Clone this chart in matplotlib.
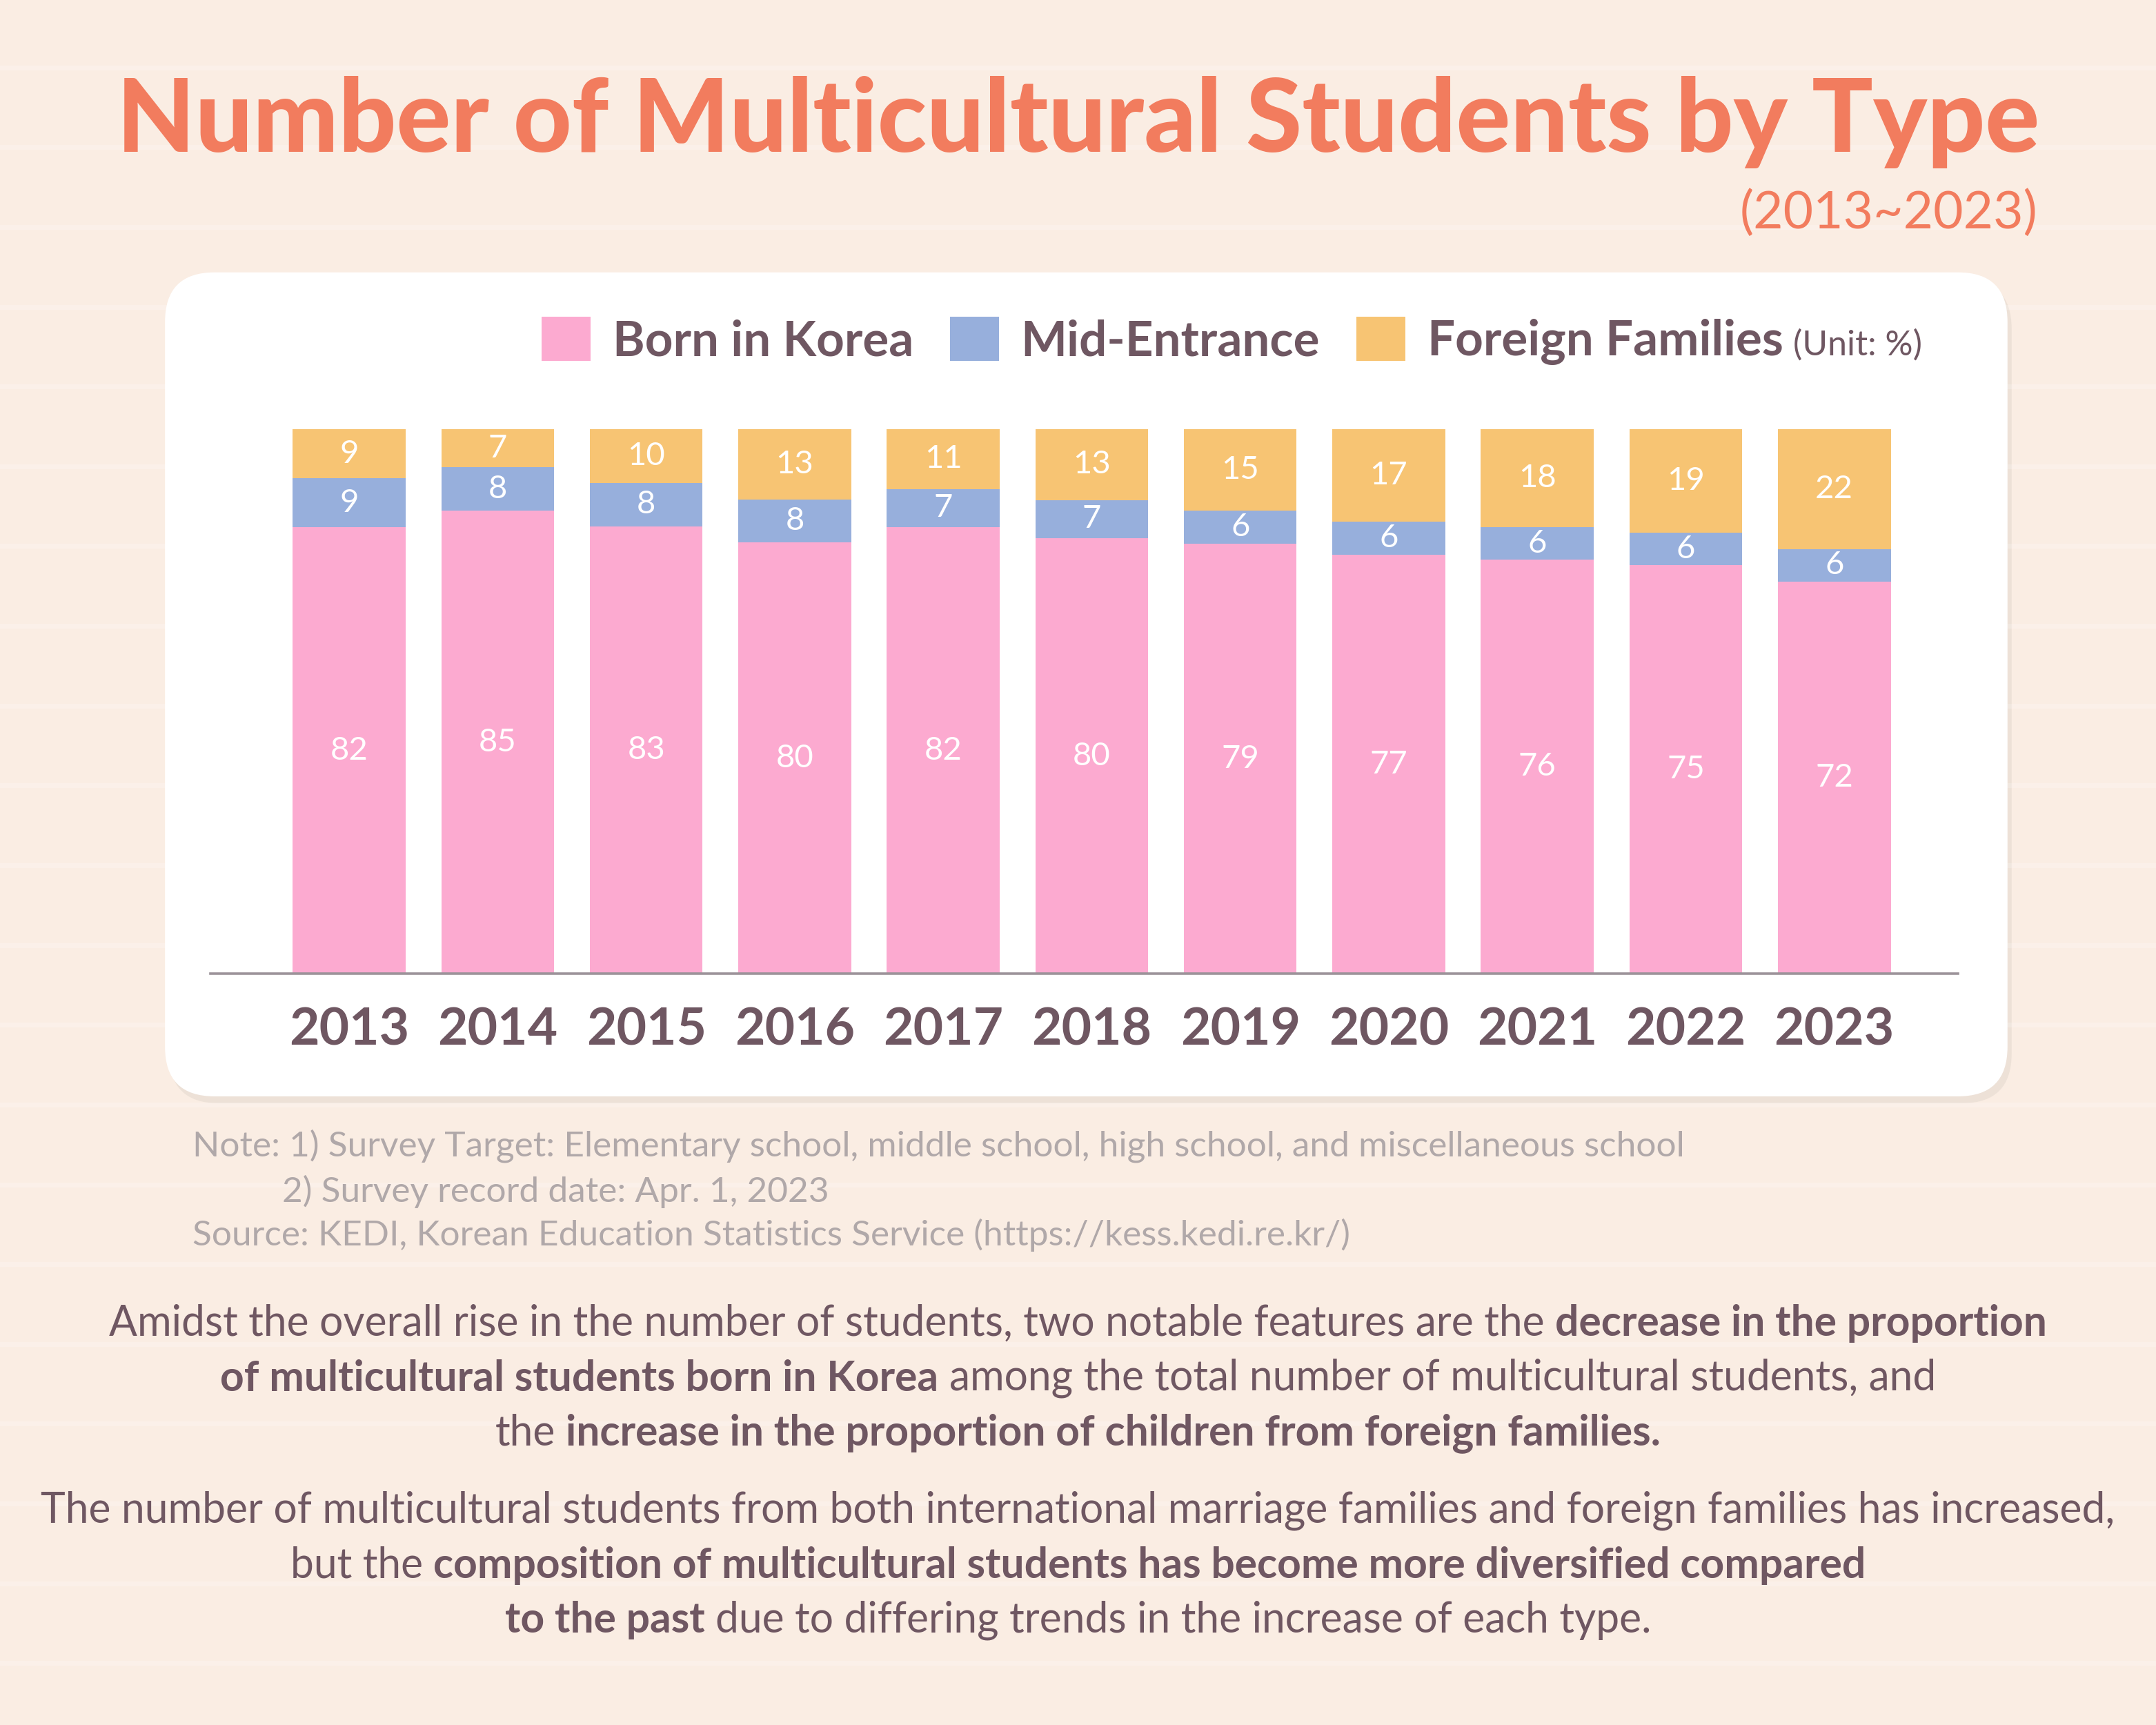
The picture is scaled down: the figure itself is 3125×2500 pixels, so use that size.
import matplotlib.pyplot as plt
import numpy as np
from matplotlib.patches import FancyBboxPatch

plt.rcParams['font.family'] = ['Lato', 'DejaVu Sans']

# data (unit: %)
years = ['2013', '2014', '2015', '2016', '2017', '2018', '2019', '2020', '2021', '2022', '2023']
born_korea = [82, 85, 83, 80, 82, 80, 79, 77, 76, 75, 72]
mid_entrance = [9, 8, 8, 8, 7, 7, 6, 6, 6, 6, 6]
foreign_fam = [9, 7, 10, 13, 11, 13, 15, 17, 18, 19, 22]
series_names = ['Born in Korea', 'Mid-Entrance', 'Foreign Families']

pink = '#FCAAD0'
blue = '#97AFDC'
yellow = '#F7C473'
coral = '#F27C5E'
dark = '#6F5762'
grey_note = '#B0A8A9'

W, H = 1568, 1254   # layout grid, px of the reference preview

fig = plt.figure(figsize=(15.625, 12.5), dpi=200, facecolor='#FAEDE3')

# background + white panel
bg = fig.add_axes([0, 0, 1, 1], zorder=0)
bg.set_xlim(0, W)
bg.set_ylim(H, 0)
bg.axis('off')
for yy in np.arange(49, H, 58):
    bg.axhline(yy, color='white', lw=2.5, alpha=0.22)
shadow = FancyBboxPatch((123, 203), 1340, 599, boxstyle='round,pad=0,rounding_size=36',
                        fc='#EADFD5', ec='none', alpha=0.8)
bg.add_patch(shadow)
panel = FancyBboxPatch((120, 198), 1340, 599, boxstyle='round,pad=0,rounding_size=36',
                       fc='white', ec='none')
bg.add_patch(panel)

# title
fig.text(784 / W, 1 - 89 / H, 'Number of Multicultural Students by Type', ha='center', va='center',
         fontsize=53, weight='black', color=coral)
fig.text(1482 / W, 1 - 155 / H, '(2013~2023)', ha='right', va='center', fontsize=27, color=coral)

# bars
ax = fig.add_axes([153 / W, 1 - 708 / H, (1424 - 153) / W, 396 / H], zorder=2)
ax.set_facecolor('none')
x = np.arange(len(years))
tot = np.array(born_korea) + np.array(mid_entrance) + np.array(foreign_fam)
b1 = np.array(born_korea) / tot * 100
b2 = np.array(mid_entrance) / tot * 100
b3 = np.array(foreign_fam) / tot * 100
bw = 0.76
c1 = ax.bar(x, b1, bw, color=pink, label=series_names[0])
c2 = ax.bar(x, b2, bw, bottom=b1, color=blue, label=series_names[1])
c3 = ax.bar(x, b3, bw, bottom=b1 + b2, color=yellow, label=series_names[2])
for c, vals in [(c1, born_korea), (c2, mid_entrance), (c3, foreign_fam)]:
    ax.bar_label(c, labels=[str(v) for v in vals], label_type='center', color='white', fontsize=17)

ax.set_xlim(-0.935, 10.833)
ax.set_ylim(0, 100)
ax.set_yticks([])
for s in ['top', 'right', 'left']:
    ax.spines[s].set_visible(False)
ax.spines['bottom'].set_color('#9C939A')
ax.spines['bottom'].set_linewidth(1.3)
ax.set_xticks(x, years)
ax.tick_params(axis='x', length=0, pad=17, labelsize=27, labelcolor=dark)
for lab in ax.get_xticklabels():
    lab.set_fontweight('bold')

# legend
leg = fig.legend(handles=[c1, c2, c3], loc='center right', bbox_to_anchor=(1297 / W, 1 - 248 / H),
                 ncol=3, frameon=False, fontsize=25.5, handlelength=1.0, handleheight=1.0,
                 handletextpad=0.45, columnspacing=0.75, borderaxespad=0, borderpad=0)
for t in leg.get_texts():
    t.set_color(dark)
    t.set_fontweight('bold')
fig.text(1304 / W, 1 - 251 / H, '(Unit: %)', ha='left', va='center', fontsize=18, color=dark)

# notes
fig.text(140 / W, 1 - 833 / H, 'Note: 1) Survey Target: Elementary school, middle school, high school, and miscellaneous school',
         fontsize=18.5, color=grey_note, va='center')
fig.text(205 / W, 1 - 866 / H, '2) Survey record date: Apr. 1, 2023',
         fontsize=18.5, color=grey_note, va='center')
fig.text(140 / W, 1 - 898 / H, 'Source: KEDI, Korean Education Statistics Service (https://kess.kedi.re.kr/)',
         fontsize=18.5, color=grey_note, va='center')

# paragraph with bold runs
renderer = fig.canvas.get_renderer()
fs = 21.8


def rich_line(y, parts):
    objs = []
    for s, b in parts:
        objs.append(fig.text(0, 1 - y / H, s, fontsize=fs, color=dark, va='center',
                             weight='bold' if b else 'normal'))
    sp = fig.text(0, 0, 'a a', fontsize=fs)
    sp2 = fig.text(0, 0, 'aa', fontsize=fs)
    gap = (sp.get_window_extent(renderer).width - sp2.get_window_extent(renderer).width) / fig.bbox.width
    sp.remove()
    sp2.remove()
    widths = [o.get_window_extent(renderer).width / fig.bbox.width for o in objs]
    total = sum(widths) + gap * (len(objs) - 1)
    xx = 0.5 - total / 2
    for o, w in zip(objs, widths):
        o.set_x(xx)
        xx += w + gap


rich_line(962, [('Amidst the overall rise in the number of students, two notable features are the', False),
                ('decrease in the proportion', True)])
rich_line(1002, [('of multicultural students born in Korea', True),
                 ('among the total number of multicultural students, and', False)])
rich_line(1042, [('the', False), ('increase in the proportion of children from foreign families.', True)])
rich_line(1098, [('The number of multicultural students from both international marriage families and foreign families has increased,', False)])
rich_line(1138, [('but the', False), ('composition of multicultural students has become more diversified compared', True)])
rich_line(1178, [('to the past', True), ('due to differing trends in the increase of each type.', False)])

fig.savefig('out.png', dpi=200, facecolor=fig.get_facecolor())
